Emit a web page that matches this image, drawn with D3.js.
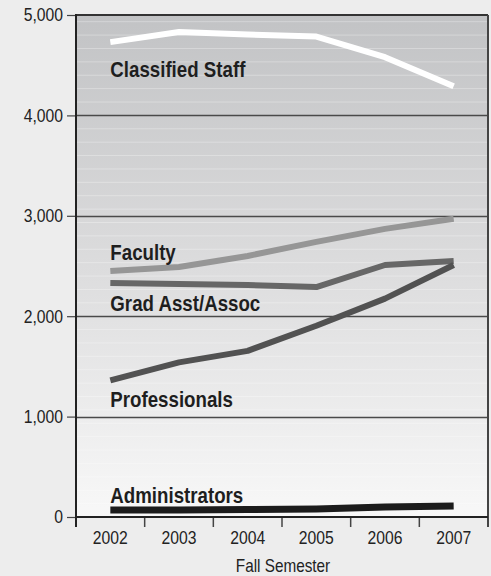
<!DOCTYPE html>
<html>
<head>
<meta charset="utf-8">
<script src="https://cdn.jsdelivr.net/npm/d3@7"></script>
<style>
  html, body { margin: 0; padding: 0; background: #ededed; }
  svg { display: block; }
  text { font-family: "Liberation Sans", Arial, sans-serif; }
</style>
</head>
<body>
<svg id="chart" width="491" height="576"></svg>
<script>
// ---- data ----
const years = ["2002", "2003", "2004", "2005", "2006", "2007"];
const yTicks = [0, 1000, 2000, 3000, 4000, 5000];
const classifiedStaff = [4730, 4830, 4805, 4785, 4580, 4290];
const faculty        = [2450, 2490, 2600, 2740, 2870, 2970];
const gradAsstAssoc  = [2330, 2320, 2310, 2290, 2510, 2550];
const professionals  = [1360, 1540, 1655, 1905, 2175, 2510];
const administrators = [70, 70, 75, 80, 100, 110];
const seriesNames = ["Classified Staff", "Faculty", "Grad Asst/Assoc", "Professionals", "Administrators"];
const xTitle = "Fall Semester";

// ---- styling ----
const seriesValues = [classifiedStaff, faculty, gradAsstAssoc, professionals, administrators];
const seriesColors = ["#ffffff", "#969696", "#676767", "#525252", "#1c1c1c"];
const seriesWidths = [6, 6, 6, 6, 7];
const labelOffsets = [35, -11, 28, 27, -7];
const condRegular = 0.85, condBold = 0.85;

const svg = d3.select("#chart");
const pL = 76, pR = 488, pT = 15, pB = 517;

const x = d3.scaleBand().domain(years).range([pL, pR]).padding(0);
const y = d3.scaleLinear().domain([0, 5000]).range([pB, pT]);
const cx = d => x(d) + x.bandwidth() / 2;

// background gradient
const defs = svg.append("defs");
const grad = defs.append("linearGradient").attr("id", "bg").attr("x1", 0).attr("y1", 0).attr("x2", 0).attr("y2", 1);
grad.append("stop").attr("offset", "0%").attr("stop-color", "#c2c3c5");
grad.append("stop").attr("offset", "50%").attr("stop-color", "#dcdcdd");
grad.append("stop").attr("offset", "100%").attr("stop-color", "#f8f8f8");

svg.append("rect").attr("x", pL).attr("y", pT).attr("width", pR - pL).attr("height", pB - pT)
  .attr("fill", "url(#bg)");

// faint banding stripes
const stripeStep = (y(0) - y(1000)) / 7.5;
const stripeYs = d3.range(0, 38).map(i => pT + 6.7 + i * stripeStep).filter(v => v < pB - 2);
svg.append("g").selectAll("line").data(stripeYs).join("line")
  .attr("x1", pL).attr("x2", pR)
  .attr("y1", d => d).attr("y2", d => d)
  .attr("stroke", "#ffffff").attr("stroke-opacity", 0.3).attr("stroke-width", 1);

// grid lines
svg.append("g").selectAll("line").data(yTicks.filter(t => t > 0 && t < 5000)).join("line")
  .attr("x1", pL).attr("x2", pR)
  .attr("y1", d => Math.round(y(d)) + 0.5).attr("y2", d => Math.round(y(d)) + 0.5)
  .attr("stroke", "#4a4a4a").attr("stroke-width", 1.3);

function condense(sel, k) {
  sel.each(function () {
    const t = d3.select(this);
    const xx = +(t.attr("x") || 0);
    t.attr("x", 0).attr("transform", `translate(${xx},0) scale(${k},1)`);
  });
}

// y axis
const yAxis = d3.axisLeft(y).tickValues(yTicks).tickFormat(d3.format(",")).tickSize(9).tickPadding(4);
const gy = svg.append("g").attr("transform", `translate(${pL},0)`).call(yAxis);
gy.select(".domain").remove();
gy.selectAll(".tick line").attr("stroke", "#444").attr("stroke-width", 1.2);
gy.selectAll(".tick text").attr("font-size", 18.5).attr("fill", "#222")
  .style("font-family", '"Liberation Sans", Arial, sans-serif').call(condense, condRegular);

// x axis ticks at band boundaries
const boundaries = years.map(d => x(d)).concat([pR]);
svg.append("g").selectAll("line").data(boundaries).join("line")
  .attr("x1", d => d).attr("x2", d => d)
  .attr("y1", pB).attr("y2", pB + 10)
  .attr("stroke", "#444").attr("stroke-width", 1.5);

const xAxis = d3.axisBottom(x).tickSize(0).tickPadding(14);
const gx = svg.append("g").attr("transform", `translate(0,${pB})`).call(xAxis);
gx.select(".domain").remove();
gx.selectAll(".tick text").attr("font-size", 18.5).attr("fill", "#222")
  .style("font-family", '"Liberation Sans", Arial, sans-serif').call(condense, condRegular);

svg.append("text").attr("transform", `translate(${(pL + pR) / 2 + 1},571.5) scale(${condRegular},1)`)
  .attr("text-anchor", "middle").attr("font-size", 18).attr("fill", "#222").text(xTitle);

// frame
svg.append("line").attr("x1", pL).attr("x2", pR).attr("y1", pT).attr("y2", pT)
  .attr("stroke", "#333").attr("stroke-width", 2);
svg.append("line").attr("x1", pR).attr("x2", pR).attr("y1", pT).attr("y2", pB + 10)
  .attr("stroke", "#444").attr("stroke-width", 2);
svg.append("line").attr("x1", pL).attr("x2", pL).attr("y1", pT - 1).attr("y2", pB + 10)
  .attr("stroke", "#222").attr("stroke-width", 2);
svg.append("line").attr("x1", pL).attr("x2", pR).attr("y1", pB).attr("y2", pB)
  .attr("stroke", "#222").attr("stroke-width", 2);

// lines
const line = d3.line().x((v, i) => cx(years[i])).y(v => y(v));
seriesValues.forEach((vals, k) => {
  svg.append("path").datum(vals).attr("d", line)
    .attr("fill", "none").attr("stroke", seriesColors[k]).attr("stroke-width", seriesWidths[k])
    .attr("stroke-linejoin", "round");
});

// labels
seriesValues.forEach((vals, k) => {
  svg.append("text")
    .attr("transform", `translate(${cx(years[0])},${y(vals[0]) + labelOffsets[k]}) scale(${condBold},1)`)
    .attr("font-size", 22).attr("font-weight", "bold").attr("fill", "#1e1e1e")
    .text(seriesNames[k]);
});
</script>
</body>
</html>
